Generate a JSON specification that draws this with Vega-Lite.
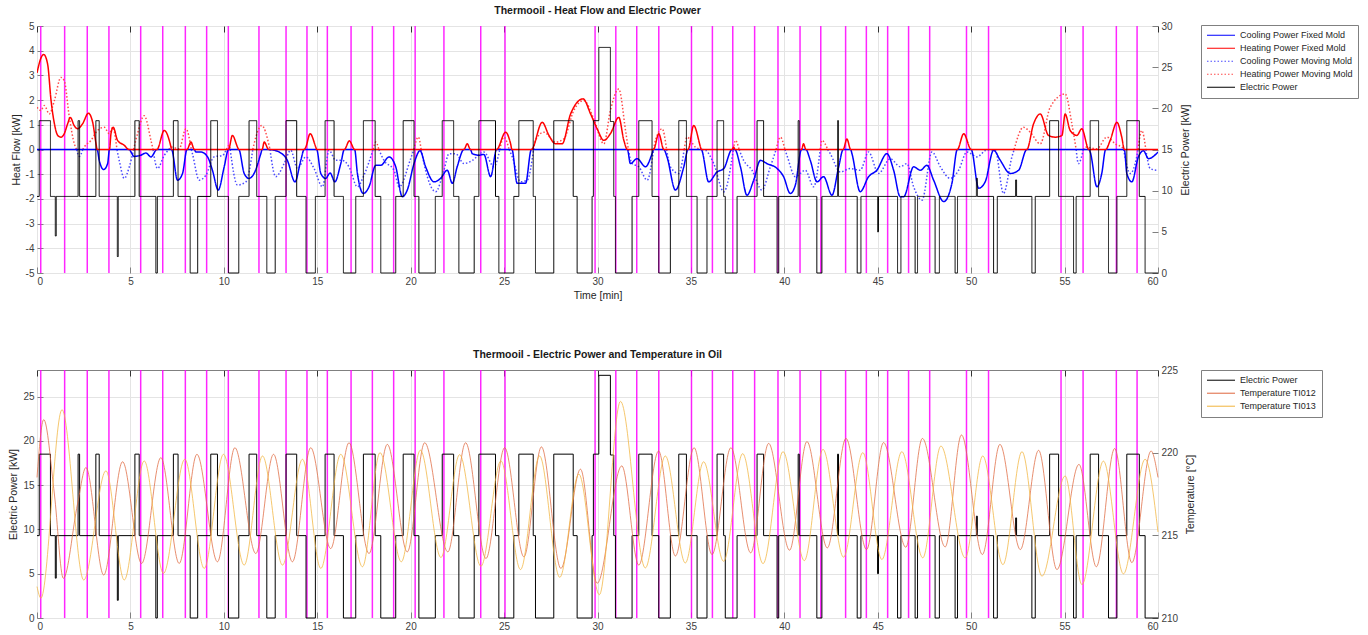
{
"$schema": "https://vega.github.io/schema/vega-lite/v6.json",
"padding": {"left": 8, "top": 5, "right": 0, "bottom": 0},
"config": {
 "font": "Liberation Sans",
 "view": {"stroke": "#808080", "strokeWidth": 1},
 "axis": {"labelFontSize": 10, "labelColor": "#404040", "titleFontSize": 10.5, "titleFontWeight": "normal", "titleColor": "#262626", "gridColor": "#e4e4e4", "domain": false, "tickColor": "#808080", "tickSize": -6, "labelPadding": 9, "titlePadding": 4},
 "title": {"font": "Liberation Sans", "fontSize": 10.5, "fontWeight": "bold", "color": "#1a1a1a", "offset": 5, "anchor": "middle"},
 "legend": {"orient": "none", "title": null, "symbolType": "stroke", "symbolSize": 784, "symbolStrokeWidth": 1.2, "labelFontSize": 9, "labelFont": "Liberation Sans", "labelColor": "#262626", "strokeColor": "#808080", "fillColor": "#ffffff", "padding": 5, "clipHeight": 10.5, "rowPadding": 2, "labelOffset": 4}
},
"datasets": {
 "marks": [{"t":0.2},{"t":1.48},{"t":2.69},{"t":3.85},{"t":5.55},{"t":6.73},{"t":7.94},{"t":9.08},{"t":10.24},{"t":11.88},{"t":13.33},{"t":14.45},{"t":15.54},{"t":16.81},{"t":17.95},{"t":19.09},{"t":20.24},{"t":21.78},{"t":23.75},{"t":25.05},{"t":29.87},{"t":30.98},{"t":32.1},{"t":33.28},{"t":35.03},{"t":36.15},{"t":37.24},{"t":38.41},{"t":39.66},{"t":40.84},{"t":41.95},{"t":43.28},{"t":44.39},{"t":45.53},{"t":46.65},{"t":47.78},{"t":49.75},{"t":50.93},{"t":54.81},{"t":55.99},{"t":57.77},{"t":58.88}],
 "ep": [{"s":"EP","t":0,"p":9.3},{"s":"EP","t":0.12,"p":18.5},{"s":"EP","t":0.72,"p":9.3},{"s":"EP","t":0.98,"p":4.5},{"s":"EP","t":1.03,"p":9.3},{"s":"EP","t":2.2,"p":18.5},{"s":"EP","t":2.28,"p":9.3},{"s":"EP","t":3.15,"p":18.5},{"s":"EP","t":3.33,"p":9.3},{"s":"EP","t":4.3,"p":2},{"s":"EP","t":4.35,"p":9.3},{"s":"EP","t":5.24,"p":18.5},{"s":"EP","t":5.47,"p":9.3},{"s":"EP","t":6.36,"p":0},{"s":"EP","t":6.44,"p":9.3},{"s":"EP","t":7.3,"p":18.5},{"s":"EP","t":7.55,"p":9.3},{"s":"EP","t":8.2,"p":0},{"s":"EP","t":8.6,"p":9.3},{"s":"EP","t":9.3,"p":18.5},{"s":"EP","t":9.66,"p":9.3},{"s":"EP","t":10.25,"p":0},{"s":"EP","t":10.8,"p":9.3},{"s":"EP","t":11.35,"p":18.5},{"s":"EP","t":11.76,"p":9.3},{"s":"EP","t":12.3,"p":0},{"s":"EP","t":12.75,"p":9.3},{"s":"EP","t":13.33,"p":18.5},{"s":"EP","t":13.9,"p":9.3},{"s":"EP","t":14.4,"p":0},{"s":"EP","t":14.9,"p":9.3},{"s":"EP","t":15.42,"p":18.5},{"s":"EP","t":15.9,"p":9.3},{"s":"EP","t":16.4,"p":0},{"s":"EP","t":17.06,"p":9.3},{"s":"EP","t":17.47,"p":18.5},{"s":"EP","t":18.1,"p":9.3},{"s":"EP","t":18.4,"p":0},{"s":"EP","t":19.2,"p":9.3},{"s":"EP","t":19.6,"p":18.5},{"s":"EP","t":20.18,"p":9.3},{"s":"EP","t":20.44,"p":0},{"s":"EP","t":21.32,"p":9.3},{"s":"EP","t":21.69,"p":18.5},{"s":"EP","t":22.3,"p":9.3},{"s":"EP","t":22.58,"p":0},{"s":"EP","t":23.4,"p":9.3},{"s":"EP","t":23.65,"p":18.5},{"s":"EP","t":24.54,"p":9.3},{"s":"EP","t":24.72,"p":0},{"s":"EP","t":25.52,"p":9.3},{"s":"EP","t":25.79,"p":18.5},{"s":"EP","t":26.56,"p":9.3},{"s":"EP","t":26.68,"p":0},{"s":"EP","t":27.66,"p":18.5},{"s":"EP","t":28.7,"p":9.3},{"s":"EP","t":28.91,"p":0},{"s":"EP","t":29.71,"p":9.3},{"s":"EP","t":29.78,"p":18.5},{"s":"EP","t":30.07,"p":27.4},{"s":"EP","t":30.69,"p":18.4},{"s":"EP","t":30.87,"p":9.3},{"s":"EP","t":30.96,"p":0},{"s":"EP","t":31.85,"p":9.3},{"s":"EP","t":32.21,"p":18.5},{"s":"EP","t":32.92,"p":9.3},{"s":"EP","t":33.28,"p":0},{"s":"EP","t":33.9,"p":9.3},{"s":"EP","t":34.35,"p":18.5},{"s":"EP","t":34.76,"p":9.3},{"s":"EP","t":35.33,"p":0},{"s":"EP","t":35.86,"p":9.3},{"s":"EP","t":36.4,"p":18.5},{"s":"EP","t":36.75,"p":9.3},{"s":"EP","t":36.84,"p":0},{"s":"EP","t":37.47,"p":9.3},{"s":"EP","t":38.54,"p":18.5},{"s":"EP","t":38.89,"p":9.3},{"s":"EP","t":39.61,"p":0},{"s":"EP","t":39.7,"p":9.3},{"s":"EP","t":40.74,"p":18.5},{"s":"EP","t":40.8,"p":9.3},{"s":"EP","t":41.74,"p":0},{"s":"EP","t":42.01,"p":9.3},{"s":"EP","t":42.85,"p":18.5},{"s":"EP","t":42.9,"p":9.3},{"s":"EP","t":43.9,"p":0},{"s":"EP","t":44.1,"p":9.3},{"s":"EP","t":44.99,"p":5},{"s":"EP","t":45.04,"p":9.3},{"s":"EP","t":46.06,"p":0},{"s":"EP","t":46.24,"p":9.3},{"s":"EP","t":47.0,"p":0},{"s":"EP","t":47.13,"p":9.3},{"s":"EP","t":48.07,"p":0},{"s":"EP","t":48.3,"p":9.3},{"s":"EP","t":49.14,"p":0},{"s":"EP","t":49.27,"p":9.3},{"s":"EP","t":50.28,"p":11.5},{"s":"EP","t":50.33,"p":9.3},{"s":"EP","t":51.2,"p":0},{"s":"EP","t":51.4,"p":9.3},{"s":"EP","t":52.38,"p":11.3},{"s":"EP","t":52.43,"p":9.3},{"s":"EP","t":53.25,"p":0},{"s":"EP","t":53.43,"p":9.3},{"s":"EP","t":54.2,"p":18.5},{"s":"EP","t":54.68,"p":9.3},{"s":"EP","t":55.48,"p":0},{"s":"EP","t":55.62,"p":9.3},{"s":"EP","t":56.37,"p":18.5},{"s":"EP","t":56.82,"p":9.3},{"s":"EP","t":57.35,"p":0},{"s":"EP","t":57.8,"p":9.3},{"s":"EP","t":58.33,"p":18.5},{"s":"EP","t":59.0,"p":9.3},{"s":"EP","t":59.31,"p":0},{"s":"EP","t":60,"p":0}],
 "hf": [
{"s":"CM","t":2.12,"v":0},{"s":"CM","t":2.26,"v":-0.28},{"s":"CM","t":2.45,"v":0},{"s":"CM","t":3.3,"v":null},{"s":"CM","t":4.28,"v":0},{"s":"CM","t":4.4,"v":-0.44},{"s":"CM","t":4.67,"v":-1.17},{"s":"CM","t":4.94,"v":-0.7},{"s":"CM","t":5.17,"v":0},{"s":"CM","t":5.7,"v":null},{"s":"CM","t":6.21,"v":0},{"s":"CM","t":6.45,"v":-0.77},{"s":"CM","t":6.81,"v":-0.24},{"s":"CM","t":7.06,"v":0},{"s":"CM","t":7.6,"v":null},{"s":"CM","t":8.26,"v":0},{"s":"CM","t":8.32,"v":-0.17},{"s":"CM","t":8.68,"v":-1.24},{"s":"CM","t":9.04,"v":-1.04},{"s":"CM","t":9.48,"v":-0.3},{"s":"CM","t":9.93,"v":-0.24},{"s":"CM","t":10.14,"v":0},{"s":"CM","t":10.24,"v":null},{"s":"CM","t":10.34,"v":0},{"s":"CM","t":10.73,"v":-1.44},{"s":"CM","t":11.18,"v":-1.31},{"s":"CM","t":11.55,"v":0},{"s":"CM","t":12.0,"v":null},{"s":"CM","t":12.47,"v":0},{"s":"CM","t":12.78,"v":-1.1},{"s":"CM","t":13.23,"v":-0.57},{"s":"CM","t":13.58,"v":-0.03},{"s":"CM","t":13.94,"v":-0.77},{"s":"CM","t":14.39,"v":-0.3},{"s":"CM","t":14.83,"v":-0.77},{"s":"CM","t":15.28,"v":-1.51},{"s":"CM","t":15.63,"v":-0.03},{"s":"CM","t":15.99,"v":-0.44},{"s":"CM","t":16.35,"v":-0.44},{"s":"CM","t":16.7,"v":-0.7},{"s":"CM","t":17.15,"v":-1.51},{"s":"CM","t":17.5,"v":-1.04},{"s":"CM","t":17.99,"v":0},{"s":"CM","t":18.15,"v":null},{"s":"CM","t":18.3,"v":0},{"s":"CM","t":18.57,"v":-0.44},{"s":"CM","t":19.11,"v":-0.84},{"s":"CM","t":19.38,"v":-1.51},{"s":"CM","t":20.0,"v":-0.37},{"s":"CM","t":20.17,"v":0},{"s":"CM","t":20.35,"v":null},{"s":"CM","t":20.56,"v":0},{"s":"CM","t":20.89,"v":-1.1},{"s":"CM","t":21.34,"v":-1.71},{"s":"CM","t":21.78,"v":-0.84},{"s":"CM","t":22.05,"v":-0.17},{"s":"CM","t":22.41,"v":-0.17},{"s":"CM","t":22.85,"v":-0.57},{"s":"CM","t":23.3,"v":-0.44},{"s":"CM","t":23.92,"v":-0.1},{"s":"CM","t":24.46,"v":-0.7},{"s":"CM","t":24.77,"v":0},{"s":"CM","t":25.0,"v":null},{"s":"CM","t":25.27,"v":0},{"s":"CM","t":25.44,"v":-0.3},{"s":"CM","t":25.88,"v":-1.31},{"s":"CM","t":26.24,"v":-1.24},{"s":"CM","t":26.58,"v":0},{"s":"CM","t":29.0,"v":null},{"s":"CM","t":31.65,"v":0},{"s":"CM","t":31.85,"v":-0.57},{"s":"CM","t":32.21,"v":-0.7},{"s":"CM","t":32.66,"v":-1.24},{"s":"CM","t":33.0,"v":0},{"s":"CM","t":33.35,"v":null},{"s":"CM","t":33.7,"v":0},{"s":"CM","t":33.9,"v":-0.7},{"s":"CM","t":34.35,"v":-0.97},{"s":"CM","t":34.64,"v":0},{"s":"CM","t":35.1,"v":null},{"s":"CM","t":35.6,"v":0},{"s":"CM","t":35.78,"v":-0.03},{"s":"CM","t":36.22,"v":-0.57},{"s":"CM","t":36.76,"v":-1.71},{"s":"CM","t":37.27,"v":0},{"s":"CM","t":37.42,"v":null},{"s":"CM","t":37.58,"v":0},{"s":"CM","t":37.82,"v":-0.44},{"s":"CM","t":38.27,"v":-0.84},{"s":"CM","t":38.8,"v":-1.64},{"s":"CM","t":39.25,"v":-0.7},{"s":"CM","t":39.56,"v":0},{"s":"CM","t":39.8,"v":null},{"s":"CM","t":40.03,"v":0},{"s":"CM","t":40.14,"v":-0.24},{"s":"CM","t":40.59,"v":-1.1},{"s":"CM","t":41.12,"v":-0.84},{"s":"CM","t":41.57,"v":-1.51},{"s":"CM","t":41.92,"v":0},{"s":"CM","t":42.1,"v":null},{"s":"CM","t":42.32,"v":0},{"s":"CM","t":42.46,"v":-0.17},{"s":"CM","t":43.0,"v":-0.91},{"s":"CM","t":43.53,"v":-0.77},{"s":"CM","t":44.06,"v":-0.84},{"s":"CM","t":44.51,"v":-0.1},{"s":"CM","t":45.04,"v":-0.97},{"s":"CM","t":45.67,"v":-0.37},{"s":"CM","t":46.2,"v":-0.7},{"s":"CM","t":46.56,"v":-0.57},{"s":"CM","t":46.92,"v":-1.51},{"s":"CM","t":47.37,"v":-2.05},{"s":"CM","t":47.9,"v":-0.1},{"s":"CM","t":48.35,"v":-0.7},{"s":"CM","t":48.88,"v":-1.17},{"s":"CM","t":49.33,"v":-0.84},{"s":"CM","t":49.77,"v":-0.1},{"s":"CM","t":50.31,"v":-0.3},{"s":"CM","t":50.84,"v":-0.02},{"s":"CM","t":51.29,"v":-0.03},{"s":"CM","t":51.73,"v":-1.78},{"s":"CM","t":52.18,"v":-0.3},{"s":"CM","t":52.3,"v":0},{"s":"CM","t":54.0,"v":null},{"s":"CM","t":55.62,"v":0},{"s":"CM","t":55.74,"v":-0.57},{"s":"CM","t":56.0,"v":0},{"s":"CM","t":57.0,"v":null},{"s":"CM","t":58.16,"v":0},{"s":"CM","t":58.51,"v":-0.97},{"s":"CM","t":58.86,"v":-0.3},{"s":"CM","t":58.93,"v":0},{"s":"CM","t":59.15,"v":null},{"s":"CM","t":59.35,"v":0},{"s":"CM","t":59.58,"v":-0.77},{"s":"CM","t":59.93,"v":-0.84},{"s":"CM","t":60,"v":-0.8},
{"s":"HM","t":0,"v":1.71},{"s":"HM","t":0.21,"v":1.58},{"s":"HM","t":0.39,"v":1.78},{"s":"HM","t":0.66,"v":1.44},{"s":"HM","t":0.93,"v":1.98},{"s":"HM","t":1.28,"v":2.92},{"s":"HM","t":1.46,"v":2.78},{"s":"HM","t":1.73,"v":1.31},{"s":"HM","t":2.0,"v":0.23},{"s":"HM","t":2.12,"v":0},{"s":"HM","t":2.3,"v":null},{"s":"HM","t":2.45,"v":0},{"s":"HM","t":2.53,"v":0.1},{"s":"HM","t":2.89,"v":0.37},{"s":"HM","t":3.24,"v":0.77},{"s":"HM","t":3.6,"v":0.9},{"s":"HM","t":3.87,"v":0.64},{"s":"HM","t":4.05,"v":0.9},{"s":"HM","t":4.28,"v":0},{"s":"HM","t":4.7,"v":null},{"s":"HM","t":5.17,"v":0},{"s":"HM","t":5.38,"v":0.64},{"s":"HM","t":5.74,"v":1.37},{"s":"HM","t":6.1,"v":0.37},{"s":"HM","t":6.21,"v":0},{"s":"HM","t":6.6,"v":null},{"s":"HM","t":7.06,"v":0},{"s":"HM","t":7.17,"v":0.1},{"s":"HM","t":7.61,"v":0.03},{"s":"HM","t":7.97,"v":0.84},{"s":"HM","t":8.26,"v":0},{"s":"HM","t":9.2,"v":null},{"s":"HM","t":10.14,"v":0},{"s":"HM","t":10.29,"v":0.17},{"s":"HM","t":10.34,"v":0},{"s":"HM","t":11.0,"v":null},{"s":"HM","t":11.55,"v":0},{"s":"HM","t":11.62,"v":0.23},{"s":"HM","t":12.03,"v":0.97},{"s":"HM","t":12.42,"v":0.17},{"s":"HM","t":12.47,"v":0},{"s":"HM","t":15.0,"v":null},{"s":"HM","t":17.99,"v":0},{"s":"HM","t":18.13,"v":0.3},{"s":"HM","t":18.3,"v":0},{"s":"HM","t":19.2,"v":null},{"s":"HM","t":20.17,"v":0},{"s":"HM","t":20.41,"v":0.5},{"s":"HM","t":20.56,"v":0},{"s":"HM","t":22.5,"v":null},{"s":"HM","t":24.77,"v":0},{"s":"HM","t":24.99,"v":0.5},{"s":"HM","t":25.27,"v":0},{"s":"HM","t":25.9,"v":null},{"s":"HM","t":26.58,"v":0},{"s":"HM","t":26.68,"v":0.37},{"s":"HM","t":27.13,"v":0.7},{"s":"HM","t":27.75,"v":0.3},{"s":"HM","t":28.2,"v":0.43},{"s":"HM","t":28.73,"v":1.58},{"s":"HM","t":29.27,"v":1.98},{"s":"HM","t":29.8,"v":1.24},{"s":"HM","t":30.34,"v":0.23},{"s":"HM","t":30.69,"v":1.58},{"s":"HM","t":31.14,"v":2.45},{"s":"HM","t":31.5,"v":0.77},{"s":"HM","t":31.65,"v":0},{"s":"HM","t":32.3,"v":null},{"s":"HM","t":33.0,"v":0},{"s":"HM","t":33.1,"v":0.37},{"s":"HM","t":33.46,"v":0.84},{"s":"HM","t":33.7,"v":0},{"s":"HM","t":34.2,"v":null},{"s":"HM","t":34.64,"v":0},{"s":"HM","t":34.79,"v":0.5},{"s":"HM","t":35.24,"v":0.1},{"s":"HM","t":35.6,"v":0},{"s":"HM","t":36.4,"v":null},{"s":"HM","t":37.27,"v":0},{"s":"HM","t":37.38,"v":0.37},{"s":"HM","t":37.58,"v":0},{"s":"HM","t":38.6,"v":null},{"s":"HM","t":39.56,"v":0},{"s":"HM","t":39.79,"v":0.5},{"s":"HM","t":40.03,"v":0},{"s":"HM","t":41.0,"v":null},{"s":"HM","t":41.92,"v":0},{"s":"HM","t":42.01,"v":0.37},{"s":"HM","t":42.32,"v":0},{"s":"HM","t":47.0,"v":null},{"s":"HM","t":52.3,"v":0},{"s":"HM","t":52.8,"v":0.9},{"s":"HM","t":53.16,"v":0.7},{"s":"HM","t":53.7,"v":0.23},{"s":"HM","t":54.23,"v":1.71},{"s":"HM","t":55.03,"v":2.25},{"s":"HM","t":55.39,"v":1.04},{"s":"HM","t":55.62,"v":0},{"s":"HM","t":55.8,"v":null},{"s":"HM","t":56.0,"v":0},{"s":"HM","t":56.1,"v":0.1},{"s":"HM","t":56.73,"v":0.03},{"s":"HM","t":57.26,"v":0.5},{"s":"HM","t":57.71,"v":0.23},{"s":"HM","t":58.15,"v":0.03},{"s":"HM","t":58.16,"v":0},{"s":"HM","t":58.5,"v":null},{"s":"HM","t":58.93,"v":0},{"s":"HM","t":59.13,"v":0.77},{"s":"HM","t":59.35,"v":0},
{"s":"CF","t":0,"v":0},{"s":"CF","t":3.22,"v":0},{"s":"CF","t":3.33,"v":-0.44},{"s":"CF","t":3.57,"v":-0.81},{"s":"CF","t":3.78,"v":-0.57},{"s":"CF","t":3.88,"v":0},{"s":"CF","t":4.92,"v":0},{"s":"CF","t":5.2,"v":-0.28},{"s":"CF","t":5.56,"v":-0.23},{"s":"CF","t":5.83,"v":-0.14},{"s":"CF","t":6.1,"v":-0.3},{"s":"CF","t":6.42,"v":0},{"s":"CF","t":7.2,"v":0},{"s":"CF","t":7.52,"v":-1.24},{"s":"CF","t":7.79,"v":-0.97},{"s":"CF","t":8.03,"v":0},{"s":"CF","t":8.42,"v":0},{"s":"CF","t":8.5,"v":-0.1},{"s":"CF","t":8.77,"v":-0.1},{"s":"CF","t":9.13,"v":-0.3},{"s":"CF","t":9.39,"v":-0.84},{"s":"CF","t":9.7,"v":-1.64},{"s":"CF","t":10.02,"v":-0.7},{"s":"CF","t":10.25,"v":0},{"s":"CF","t":10.8,"v":0},{"s":"CF","t":11.09,"v":-0.97},{"s":"CF","t":11.35,"v":-1.17},{"s":"CF","t":11.62,"v":-0.97},{"s":"CF","t":11.98,"v":-0.17},{"s":"CF","t":12.05,"v":0},{"s":"CF","t":12.4,"v":0},{"s":"CF","t":12.69,"v":-0.03},{"s":"CF","t":12.96,"v":-0.1},{"s":"CF","t":13.4,"v":-0.44},{"s":"CF","t":13.81,"v":-1.31},{"s":"CF","t":14.12,"v":-0.44},{"s":"CF","t":14.3,"v":0},{"s":"CF","t":14.97,"v":0},{"s":"CF","t":15.19,"v":-0.97},{"s":"CF","t":15.45,"v":-1.17},{"s":"CF","t":15.69,"v":-0.95},{"s":"CF","t":15.94,"v":-1.31},{"s":"CF","t":16.26,"v":-0.57},{"s":"CF","t":16.45,"v":0},{"s":"CF","t":17.0,"v":0},{"s":"CF","t":17.15,"v":-0.97},{"s":"CF","t":17.47,"v":-1.78},{"s":"CF","t":17.77,"v":-1.51},{"s":"CF","t":18.13,"v":-0.64},{"s":"CF","t":18.4,"v":-0.64},{"s":"CF","t":18.84,"v":-0.3},{"s":"CF","t":19.2,"v":-0.7},{"s":"CF","t":19.55,"v":-1.91},{"s":"CF","t":19.82,"v":-1.64},{"s":"CF","t":20.18,"v":-0.57},{"s":"CF","t":20.5,"v":-0.05},{"s":"CF","t":20.8,"v":-0.7},{"s":"CF","t":21.25,"v":-1.31},{"s":"CF","t":21.6,"v":-1.17},{"s":"CF","t":21.96,"v":-0.84},{"s":"CF","t":22.23,"v":-1.37},{"s":"CF","t":22.49,"v":-0.7},{"s":"CF","t":22.85,"v":0},{"s":"CF","t":23.2,"v":0},{"s":"CF","t":23.3,"v":-0.17},{"s":"CF","t":23.65,"v":-0.23},{"s":"CF","t":23.92,"v":-0.2},{"s":"CF","t":24.28,"v":-1.1},{"s":"CF","t":24.6,"v":0},{"s":"CF","t":25.42,"v":0},{"s":"CF","t":25.7,"v":-1.37},{"s":"CF","t":26.15,"v":-1.37},{"s":"CF","t":26.46,"v":0},{"s":"CF","t":31.6,"v":0},{"s":"CF","t":31.76,"v":-0.57},{"s":"CF","t":32.12,"v":-0.37},{"s":"CF","t":32.57,"v":-0.7},{"s":"CF","t":32.92,"v":-0.17},{"s":"CF","t":33.0,"v":0},{"s":"CF","t":33.55,"v":0},{"s":"CF","t":33.72,"v":-0.3},{"s":"CF","t":34.17,"v":-1.64},{"s":"CF","t":34.62,"v":-0.7},{"s":"CF","t":34.85,"v":0},{"s":"CF","t":35.55,"v":0},{"s":"CF","t":35.95,"v":-1.31},{"s":"CF","t":36.4,"v":-0.91},{"s":"CF","t":36.76,"v":-0.77},{"s":"CF","t":37.2,"v":0},{"s":"CF","t":37.35,"v":0},{"s":"CF","t":37.65,"v":-0.7},{"s":"CF","t":38.0,"v":-1.85},{"s":"CF","t":38.36,"v":-1.24},{"s":"CF","t":38.72,"v":-0.44},{"s":"CF","t":39.07,"v":-0.57},{"s":"CF","t":39.61,"v":-0.77},{"s":"CF","t":39.96,"v":-1.1},{"s":"CF","t":40.32,"v":-1.78},{"s":"CF","t":40.59,"v":-1.44},{"s":"CF","t":40.92,"v":0},{"s":"CF","t":41.15,"v":0},{"s":"CF","t":41.39,"v":-0.44},{"s":"CF","t":41.75,"v":-1.31},{"s":"CF","t":42.1,"v":-1.1},{"s":"CF","t":42.55,"v":-1.85},{"s":"CF","t":42.91,"v":-0.7},{"s":"CF","t":43.15,"v":0},{"s":"CF","t":43.55,"v":0},{"s":"CF","t":43.62,"v":-0.17},{"s":"CF","t":44.06,"v":-1.71},{"s":"CF","t":44.51,"v":-1.1},{"s":"CF","t":44.95,"v":-0.84},{"s":"CF","t":45.49,"v":-0.17},{"s":"CF","t":45.85,"v":-0.84},{"s":"CF","t":46.2,"v":-1.91},{"s":"CF","t":46.39,"v":-1.91},{"s":"CF","t":46.92,"v":-0.7},{"s":"CF","t":47.28,"v":-0.84},{"s":"CF","t":47.63,"v":-0.64},{"s":"CF","t":47.99,"v":-1.24},{"s":"CF","t":48.53,"v":-2.11},{"s":"CF","t":48.97,"v":-1.37},{"s":"CF","t":49.26,"v":0},{"s":"CF","t":50.0,"v":0},{"s":"CF","t":50.4,"v":-1.57},{"s":"CF","t":50.75,"v":-1.31},{"s":"CF","t":51.2,"v":-0.03},{"s":"CF","t":51.56,"v":-0.44},{"s":"CF","t":52.09,"v":-0.97},{"s":"CF","t":52.54,"v":-0.84},{"s":"CF","t":52.98,"v":0},{"s":"CF","t":56.3,"v":0},{"s":"CF","t":56.37,"v":-0.1},{"s":"CF","t":56.73,"v":-1.51},{"s":"CF","t":56.99,"v":-0.97},{"s":"CF","t":57.2,"v":0},{"s":"CF","t":58.2,"v":0},{"s":"CF","t":58.33,"v":-0.97},{"s":"CF","t":58.6,"v":-1.31},{"s":"CF","t":58.95,"v":-0.3},{"s":"CF","t":59.22,"v":-0.05},{"s":"CF","t":59.49,"v":-0.37},{"s":"CF","t":60,"v":-0.1},
{"s":"HF","t":0,"v":3.1},{"s":"HF","t":0.21,"v":3.7},{"s":"HF","t":0.36,"v":3.85},{"s":"HF","t":0.57,"v":3.45},{"s":"HF","t":0.75,"v":2.0},{"s":"HF","t":0.93,"v":1.05},{"s":"HF","t":1.11,"v":0.57},{"s":"HF","t":1.28,"v":0.5},{"s":"HF","t":1.46,"v":0.64},{"s":"HF","t":1.64,"v":1.04},{"s":"HF","t":1.78,"v":1.3},{"s":"HF","t":1.99,"v":0.97},{"s":"HF","t":2.17,"v":0.84},{"s":"HF","t":2.44,"v":1.04},{"s":"HF","t":2.75,"v":1.47},{"s":"HF","t":2.98,"v":1.1},{"s":"HF","t":3.16,"v":0.23},{"s":"HF","t":3.22,"v":0},{"s":"HF","t":3.88,"v":0},{"s":"HF","t":3.96,"v":0.64},{"s":"HF","t":4.08,"v":0.9},{"s":"HF","t":4.31,"v":0.37},{"s":"HF","t":4.67,"v":0.17},{"s":"HF","t":4.92,"v":0},{"s":"HF","t":6.42,"v":0},{"s":"HF","t":6.81,"v":0.77},{"s":"HF","t":7.17,"v":0.1},{"s":"HF","t":7.2,"v":0},{"s":"HF","t":8.03,"v":0},{"s":"HF","t":8.24,"v":0.3},{"s":"HF","t":8.42,"v":0},{"s":"HF","t":10.25,"v":0},{"s":"HF","t":10.46,"v":0.57},{"s":"HF","t":10.73,"v":0.1},{"s":"HF","t":10.8,"v":0},{"s":"HF","t":12.05,"v":0},{"s":"HF","t":12.16,"v":0.3},{"s":"HF","t":12.4,"v":0},{"s":"HF","t":14.3,"v":0},{"s":"HF","t":14.39,"v":0.1},{"s":"HF","t":14.62,"v":0.64},{"s":"HF","t":14.92,"v":0.1},{"s":"HF","t":14.97,"v":0},{"s":"HF","t":16.45,"v":0},{"s":"HF","t":16.72,"v":0.35},{"s":"HF","t":17.0,"v":0},{"s":"HF","t":22.85,"v":0},{"s":"HF","t":23.03,"v":0.23},{"s":"HF","t":23.2,"v":0},{"s":"HF","t":24.6,"v":0},{"s":"HF","t":25.08,"v":0.7},{"s":"HF","t":25.35,"v":0.23},{"s":"HF","t":25.42,"v":0},{"s":"HF","t":26.46,"v":0},{"s":"HF","t":27.04,"v":1.1},{"s":"HF","t":27.4,"v":0.57},{"s":"HF","t":27.75,"v":0.23},{"s":"HF","t":28.11,"v":0.23},{"s":"HF","t":28.56,"v":1.44},{"s":"HF","t":29.23,"v":2.05},{"s":"HF","t":29.63,"v":1.44},{"s":"HF","t":29.98,"v":0.84},{"s":"HF","t":30.34,"v":0.37},{"s":"HF","t":30.69,"v":0.64},{"s":"HF","t":31.14,"v":1.3},{"s":"HF","t":31.41,"v":0.37},{"s":"HF","t":31.6,"v":0},{"s":"HF","t":33.0,"v":0},{"s":"HF","t":33.28,"v":0.64},{"s":"HF","t":33.55,"v":0},{"s":"HF","t":34.85,"v":0},{"s":"HF","t":35.15,"v":0.97},{"s":"HF","t":35.51,"v":0.1},{"s":"HF","t":35.55,"v":0},{"s":"HF","t":37.2,"v":0},{"s":"HF","t":37.29,"v":0.1},{"s":"HF","t":37.35,"v":0},{"s":"HF","t":40.92,"v":0},{"s":"HF","t":41.03,"v":0.23},{"s":"HF","t":41.15,"v":0},{"s":"HF","t":43.15,"v":0},{"s":"HF","t":43.35,"v":0.43},{"s":"HF","t":43.55,"v":0},{"s":"HF","t":49.26,"v":0},{"s":"HF","t":49.6,"v":0.64},{"s":"HF","t":50.0,"v":0},{"s":"HF","t":52.98,"v":0},{"s":"HF","t":53.34,"v":1.04},{"s":"HF","t":53.7,"v":1.44},{"s":"HF","t":54.14,"v":0.57},{"s":"HF","t":54.5,"v":0.5},{"s":"HF","t":54.86,"v":0.57},{"s":"HF","t":55.03,"v":1.44},{"s":"HF","t":55.3,"v":0.77},{"s":"HF","t":55.66,"v":0.57},{"s":"HF","t":55.92,"v":0.84},{"s":"HF","t":56.3,"v":0},{"s":"HF","t":57.2,"v":0},{"s":"HF","t":57.44,"v":0.37},{"s":"HF","t":57.8,"v":1.1},{"s":"HF","t":58.06,"v":0.5},{"s":"HF","t":58.2,"v":0},{"s":"HF","t":60,"v":0}
 ],
 "temp": [
{"s":"T12","t":0,"v":218.5},{"s":"T12","t":0.36,"v":222.0},{"s":"T12","t":0.93,"v":217.5},{"s":"T12","t":1.41,"v":212.4},{"s":"T12","t":2.17,"v":216.9},{"s":"T12","t":2.62,"v":219.1},{"s":"T12","t":3.57,"v":212.6},{"s":"T12","t":4.58,"v":219.45},{"s":"T12","t":5.6,"v":213.3},{"s":"T12","t":6.63,"v":219.7},{"s":"T12","t":7.61,"v":213.3},{"s":"T12","t":8.56,"v":219.9},{"s":"T12","t":9.66,"v":213.4},{"s":"T12","t":10.59,"v":220.3},{"s":"T12","t":11.71,"v":213.9},{"s":"T12","t":12.66,"v":219.9},{"s":"T12","t":13.67,"v":213.4},{"s":"T12","t":14.65,"v":220.3},{"s":"T12","t":15.72,"v":214.2},{"s":"T12","t":16.7,"v":220.6},{"s":"T12","t":17.77,"v":213.9},{"s":"T12","t":18.75,"v":220.5},{"s":"T12","t":19.82,"v":214.0},{"s":"T12","t":20.75,"v":220.6},{"s":"T12","t":21.99,"v":214.0},{"s":"T12","t":22.94,"v":220.6},{"s":"T12","t":24.03,"v":213.6},{"s":"T12","t":25.03,"v":220.3},{"s":"T12","t":26.06,"v":213.7},{"s":"T12","t":27.0,"v":220.35},{"s":"T12","t":28.04,"v":213.0},{"s":"T12","t":29.09,"v":219.0},{"s":"T12","t":29.98,"v":212.1},{"s":"T12","t":31.3,"v":219.2},{"s":"T12","t":32.21,"v":213.2},{"s":"T12","t":33.27,"v":220.1},{"s":"T12","t":34.17,"v":213.75},{"s":"T12","t":35.17,"v":220.3},{"s":"T12","t":36.13,"v":213.84},{"s":"T12","t":37.14,"v":220.3},{"s":"T12","t":38.2,"v":213.94},{"s":"T12","t":39.16,"v":220.56},{"s":"T12","t":40.28,"v":214.1},{"s":"T12","t":41.21,"v":220.67},{"s":"T12","t":42.3,"v":214.24},{"s":"T12","t":43.3,"v":220.86},{"s":"T12","t":44.4,"v":214.14},{"s":"T12","t":45.31,"v":220.61},{"s":"T12","t":46.5,"v":214.28},{"s":"T12","t":47.39,"v":220.86},{"s":"T12","t":48.61,"v":214.3},{"s":"T12","t":49.48,"v":221.07},{"s":"T12","t":50.6,"v":213.84},{"s":"T12","t":51.54,"v":220.5},{"s":"T12","t":52.63,"v":214.14},{"s":"T12","t":53.61,"v":220.14},{"s":"T12","t":54.59,"v":212.93},{"s":"T12","t":55.77,"v":219.29},{"s":"T12","t":56.7,"v":213.1},{"s":"T12","t":57.68,"v":220.25},{"s":"T12","t":58.6,"v":213.35},{"s":"T12","t":59.63,"v":220.1},{"s":"T12","t":60,"v":218.5},
{"s":"T13","t":0,"v":211.9},{"s":"T13","t":0.21,"v":211.2},{"s":"T13","t":1.34,"v":222.6},{"s":"T13","t":2.5,"v":212.3},{"s":"T13","t":3.69,"v":218.9},{"s":"T13","t":4.67,"v":212.3},{"s":"T13","t":5.74,"v":219.5},{"s":"T13","t":6.77,"v":212.7},{"s":"T13","t":7.91,"v":219.6},{"s":"T13","t":8.95,"v":213.0},{"s":"T13","t":9.98,"v":219.9},{"s":"T13","t":11.09,"v":213.2},{"s":"T13","t":12.07,"v":219.8},{"s":"T13","t":13.14,"v":213.2},{"s":"T13","t":14.21,"v":219.6},{"s":"T13","t":15.19,"v":213.0},{"s":"T13","t":16.26,"v":219.9},{"s":"T13","t":17.42,"v":213.1},{"s":"T13","t":18.36,"v":220.0},{"s":"T13","t":19.5,"v":213.4},{"s":"T13","t":20.52,"v":220.15},{"s":"T13","t":21.62,"v":213.66},{"s":"T13","t":22.62,"v":219.88},{"s":"T13","t":23.76,"v":213.13},{"s":"T13","t":24.83,"v":219.5},{"s":"T13","t":25.88,"v":212.93},{"s":"T13","t":26.9,"v":219.8},{"s":"T13","t":27.98,"v":212.46},{"s":"T13","t":29.0,"v":218.7},{"s":"T13","t":30.1,"v":211.41},{"s":"T13","t":31.23,"v":223.1},{"s":"T13","t":32.56,"v":213.03},{"s":"T13","t":33.63,"v":219.8},{"s":"T13","t":34.7,"v":213.33},{"s":"T13","t":35.68,"v":219.45},{"s":"T13","t":36.75,"v":213.43},{"s":"T13","t":37.77,"v":219.94},{"s":"T13","t":38.86,"v":213.29},{"s":"T13","t":39.93,"v":220.06},{"s":"T13","t":41.07,"v":213.47},{"s":"T13","t":42.07,"v":220.2},{"s":"T13","t":43.17,"v":213.68},{"s":"T13","t":44.2,"v":220.0},{"s":"T13","t":45.22,"v":213.54},{"s":"T13","t":46.29,"v":220.06},{"s":"T13","t":47.41,"v":213.64},{"s":"T13","t":48.38,"v":220.4},{"s":"T13","t":49.68,"v":213.64},{"s":"T13","t":50.62,"v":219.8},{"s":"T13","t":51.7,"v":213.23},{"s":"T13","t":52.72,"v":220.06},{"s":"T13","t":53.79,"v":212.53},{"s":"T13","t":55.03,"v":218.59},{"s":"T13","t":55.93,"v":212.02},{"s":"T13","t":57.08,"v":219.49},{"s":"T13","t":58.15,"v":212.67},{"s":"T13","t":59.31,"v":219.6},{"s":"T13","t":60,"v":215.2}
 ]
},
"spacing": 48,
"vconcat": [
 {
  "title": {"text": "Thermooil - Heat Flow and Electric Power"},
  "width": 1121, "height": 247,
  "layer": [
   {"data": {"name": "marks"}, "mark": {"type": "rule", "color": "#ff00ff", "strokeWidth": 1.5, "opacity": 0.85},
    "encoding": {"x": {"field": "t", "type": "quantitative", "scale": {"domain": [0, 60], "nice": false}, "axis": {"orient": "top", "title": null, "labels": false, "values": [0,5,10,15,20,25,30,35,40,45,50,55,60], "grid": false, "tickColor": "#333333", "tickSize": -6}}}},
   {"data": {"name": "hf"}, "mark": {"type": "line", "interpolate": "monotone", "clip": true, "invalid": "break-paths-show-domains"},
    "encoding": {
     "x": {"field": "t", "type": "quantitative", "scale": {"domain": [0, 60], "nice": false}, "axis": {"title": "Time [min]", "values": [0,5,10,15,20,25,30,35,40,45,50,55,60], "grid": true}},
     "y": {"field": "v", "type": "quantitative", "scale": {"domain": [-5, 5], "nice": false}, "axis": {"orient": "left", "title": "Heat Flow [kW]", "values": [-5,-4,-3,-2,-1,0,1,2,3,4,5], "grid": true, "labelExpr": "'' + datum.value"}},
     "color": {"field": "s", "type": "nominal", "scale": {"domain": ["CF","HF","CM","HM","EP"], "range": ["#0000ff","#ff0000","#4a4aff","#ff4a4a","#000000"]},
       "legend": {"legendX": 1164, "legendY": -1, "labelExpr": "{'CF':'Cooling Power Fixed Mold','HF':'Heating Power Fixed Mold','CM':'Cooling Power Moving Mold','HM':'Heating Power Moving Mold','EP':'Electric Power'}[datum.label]"}},
     "strokeDash": {"field": "s", "type": "nominal", "scale": {"domain": ["CF","HF","CM","HM","EP"], "range": [[1,0],[1,0],[1.5,2],[1.5,2],[1,0]]},
       "legend": {"legendX": 1164, "legendY": -1, "labelExpr": "{'CF':'Cooling Power Fixed Mold','HF':'Heating Power Fixed Mold','CM':'Cooling Power Moving Mold','HM':'Heating Power Moving Mold','EP':'Electric Power'}[datum.label]"}},
     "strokeWidth": {"field": "s", "type": "nominal", "scale": {"domain": ["CF","HF","CM","HM"], "range": [1.5,1.5,1,1]}, "legend": null}
    }},
   {"data": {"name": "ep"}, "mark": {"type": "line", "interpolate": "step-after", "strokeWidth": 1},
    "encoding": {
     "x": {"field": "t", "type": "quantitative", "scale": {"domain": [0, 60], "nice": false}, "axis": null},
     "y": {"field": "p", "type": "quantitative", "scale": {"domain": [0, 30], "nice": false}, "axis": {"orient": "right", "title": "Electric Power [kW]", "titleAngle": 270, "titlePadding": 18, "values": [0,5,10,15,20,25,30], "grid": false}},
     "color": {"field": "s", "type": "nominal", "scale": {"domain": ["CF","HF","CM","HM","EP"], "range": ["#0000ff","#ff0000","#4a4aff","#ff4a4a","#000000"]},
       "legend": {"legendX": 1164, "legendY": -1, "labelExpr": "{'CF':'Cooling Power Fixed Mold','HF':'Heating Power Fixed Mold','CM':'Cooling Power Moving Mold','HM':'Heating Power Moving Mold','EP':'Electric Power'}[datum.label]"}},
     "strokeDash": {"field": "s", "type": "nominal", "scale": {"domain": ["CF","HF","CM","HM","EP"], "range": [[1,0],[1,0],[1.5,2],[1.5,2],[1,0]]},
       "legend": {"legendX": 1164, "legendY": -1, "labelExpr": "{'CF':'Cooling Power Fixed Mold','HF':'Heating Power Fixed Mold','CM':'Cooling Power Moving Mold','HM':'Heating Power Moving Mold','EP':'Electric Power'}[datum.label]"}}
    }}
  ],
  "resolve": {"scale": {"y": "independent", "strokeWidth": "independent"}, "axis": {"x": "independent"}}
 },
 {
  "title": {"text": "Thermooil - Electric Power and Temperature in Oil"},
  "width": 1121, "height": 248,
  "layer": [
   {"data": {"name": "marks"}, "mark": {"type": "rule", "color": "#ff00ff", "strokeWidth": 1.5, "opacity": 0.85},
    "encoding": {"x": {"field": "t", "type": "quantitative", "scale": {"domain": [0, 60], "nice": false}, "axis": {"orient": "top", "title": null, "labels": false, "values": [0,5,10,15,20,25,30,35,40,45,50,55,60], "grid": false, "tickColor": "#333333", "tickSize": -6}}}},
   {"data": {"name": "ep"}, "mark": {"type": "line", "interpolate": "step-after", "strokeWidth": 1},
    "encoding": {
     "x": {"field": "t", "type": "quantitative", "scale": {"domain": [0, 60], "nice": false}, "axis": {"title": null, "values": [0,5,10,15,20,25,30,35,40,45,50,55,60], "grid": true}},
     "y": {"field": "p", "type": "quantitative", "scale": {"domain": [0, 28], "nice": false}, "axis": {"orient": "left", "title": "Electric Power [kW]", "values": [0,5,10,15,20,25], "grid": true}},
     "color": {"field": "s", "type": "nominal", "scale": {"domain": ["EP","T12","T13"], "range": ["#000000","#e06a42","#f2b640"]},
       "legend": {"legendX": 1164, "legendY": 0, "labelExpr": "{'EP':'Electric Power','T12':'Temperature TI012','T13':'Temperature TI013'}[datum.label]"}}
    }},
   {"data": {"name": "temp"}, "mark": {"type": "line", "interpolate": "monotone", "strokeWidth": 0.9, "opacity": 0.85},
    "encoding": {
     "x": {"field": "t", "type": "quantitative", "scale": {"domain": [0, 60], "nice": false}, "axis": null},
     "y": {"field": "v", "type": "quantitative", "scale": {"domain": [210, 225], "nice": false}, "axis": {"orient": "right", "title": "Temperature [°C]", "titleAngle": 270, "titlePadding": 18, "values": [210,215,220,225], "grid": false}},
     "color": {"field": "s", "type": "nominal", "scale": {"domain": ["EP","T12","T13"], "range": ["#000000","#e06a42","#f2b640"]},
       "legend": {"legendX": 1164, "legendY": 0, "labelExpr": "{'EP':'Electric Power','T12':'Temperature TI012','T13':'Temperature TI013'}[datum.label]"}}
    }}
  ],
  "resolve": {"scale": {"y": "independent"}, "axis": {"x": "independent"}}
 }
],
"resolve": {"scale": {"color": "independent", "strokeDash": "independent"}, "legend": {"color": "independent", "strokeDash": "independent"}}
}
